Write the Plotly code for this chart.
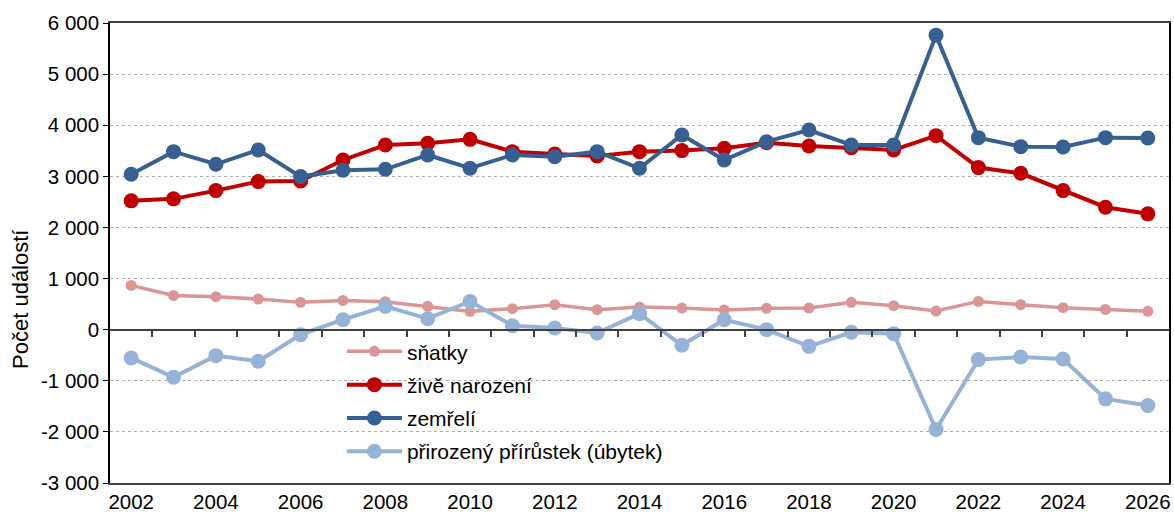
import plotly.graph_objects as go

years = list(range(2002, 2027))

snatky = [866, 670, 645, 600, 534, 573, 547, 456, 358, 410, 488, 391, 443,
          423, 384, 417, 423, 534, 469, 365, 553, 488, 430, 397, 358]
narozeni = [2520, 2559, 2721, 2897, 2910, 3320, 3613, 3646, 3724, 3483, 3438, 3398, 3483,
            3503, 3548, 3659, 3594, 3561, 3516, 3796, 3171, 3060, 2721, 2396, 2266]
zemreli = [3041, 3483, 3236, 3516, 2995, 3119, 3138, 3418, 3158, 3418, 3385, 3483, 3158,
           3809, 3320, 3678, 3906, 3613, 3613, 5762, 3757, 3581, 3575, 3757, 3750]
prirustek = [-553, -931, -508, -619, -98, 195, 456, 215, 553, 78, 33, -65, 313,
             -306, 195, 0, -326, -52, -78, -1953, -586, -534, -573, -1354, -1484]

y_tick_vals = [-3000, -2000, -1000, 0, 1000, 2000, 3000, 4000, 5000, 6000]
y_tick_text = ["-3 000", "-2 000", "-1 000", "0", "1 000", "2 000", "3 000", "4 000", "5 000", "6 000"]
x_tick_vals = list(range(2002, 2027, 2))
boundary_ticks = [y + 0.5 for y in range(2002, 2026)]

FONT = "Liberation Sans, Arial, sans-serif"

series = [
    ("sňatky", snatky, "#DA9694", 3.5, 11),
    ("živě narození", narozeni, "#C00000", 4, 15),
    ("zemřelí", zemreli, "#376092", 4, 15),
    ("přirozený přírůstek (úbytek)", prirustek, "#95B3D7", 4, 15),
]

fig = go.Figure()
for i, (name, vals, color, lw, ms) in enumerate(series):
    fig.add_trace(go.Scatter(
        x=years, y=vals, name=name, mode="lines+markers",
        legendgroup=f"g{i}",
        line=dict(color=color, width=lw),
        marker=dict(color=color, size=ms),
        cliponaxis=False,
    ))

# invisible trace to carry the zero-line axis with category-boundary ticks
fig.add_trace(go.Scatter(x=[2002], y=[0], xaxis="x2", showlegend=False,
                         mode="markers", marker=dict(opacity=0), hoverinfo="skip"))

# y title sits a bit below the axis centre in the original, so use an annotation
fig.add_annotation(
    text="Počet událostí", textangle=-90, showarrow=False,
    xref="paper", yref="paper", x=-0.084, y=0.398,
    xanchor="center", yanchor="middle",
    font=dict(size=22, family=FONT, color="black"),
)

fig.update_layout(
    width=1174, height=519,
    margin=dict(l=110, r=4.5, t=23.3, b=35.7),
    paper_bgcolor="white", plot_bgcolor="white",
    font=dict(family=FONT, size=20.5, color="black"),
    showlegend=True,
    legend=dict(
        x=0.219, y=0.33, xanchor="left", yanchor="top",
        bgcolor="rgba(255,255,255,0)", font=dict(size=21, family=FONT),
        itemwidth=55, tracegroupgap=3, traceorder="grouped",
    ),
    xaxis=dict(
        range=[2001.5, 2026.5], tickvals=x_tick_vals, ticks="",
        showgrid=False, zeroline=False,
        showline=True, linecolor="#404040", linewidth=1.5, mirror=True,
        tickfont=dict(size=20.5, family=FONT),
    ),
    xaxis2=dict(
        range=[2001.5, 2026.5], overlaying="x", anchor="free", position=1/3,
        tickvals=boundary_ticks, showticklabels=False,
        ticks="outside", ticklen=7, tickwidth=1.5, tickcolor="#404040",
        showline=True, linecolor="#404040", linewidth=1.5,
        showgrid=False, zeroline=False,
    ),
    yaxis=dict(
        range=[-3000, 6000], tickvals=y_tick_vals, ticktext=y_tick_text,
        ticks="outside", ticklen=5, tickcolor="black",
        showgrid=True, gridcolor="#B0B0B0", griddash="dot", gridwidth=1,
        zeroline=False,
        showline=True, linecolor="black", linewidth=1.5, mirror=True,
        tickfont=dict(size=20.5, family=FONT),
    ),
)

# drop the default 8px body margin so the figure fills the window exactly
fig.write_html("out.html",
               config={"displayModeBar": False},
               post_script="document.body.style.margin='0';document.body.style.overflow='hidden';")
